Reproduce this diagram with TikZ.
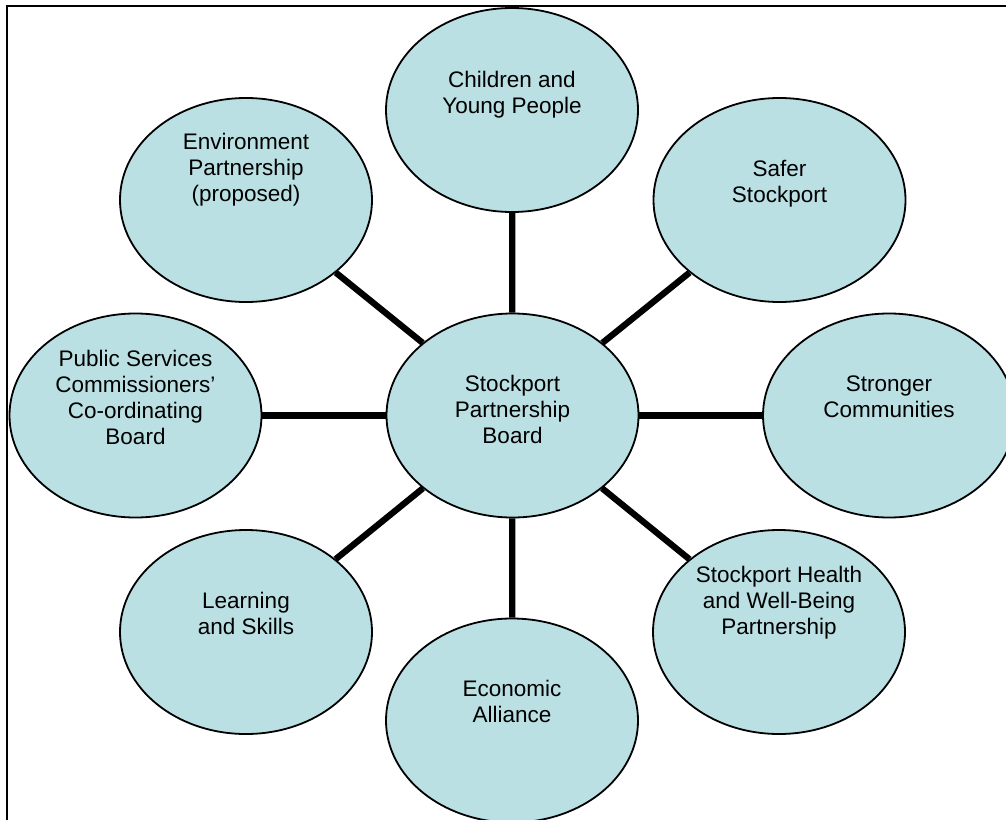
\documentclass[tikz,border=0pt]{standalone}
\usepackage{fontspec}
\setmainfont{Liberation Sans}
\usetikzlibrary{shapes.geometric}
\definecolor{bubble}{RGB}{186,224,227}
\newcommand\stk[1]{\begin{tabular}[t]{@{}c@{}}#1\end{tabular}}
\begin{document}
\begin{tikzpicture}[x=1pt,y=-1pt,
  bubble/.style={ellipse, draw=black, line width=1.8pt, fill=bubble,
    minimum width=252pt, minimum height=204pt, inner sep=0pt},
  lbl/.style={anchor=base, inner sep=0pt, font=\fontsize{22.5}{26}\selectfont},
  link/.style={line width=6.3pt, black}]
\useasboundingbox (0,0) rectangle (1006,819);
\clip (0,0) rectangle (1006,819);
% outer frame
\draw[line width=1.6pt] (7,830) -- (7,6) -- (1015,6) -- (1015,830);

% bubbles
\node[bubble] (hub)   at (512.5,415.5) {};
\node[bubble] (cyp)   at (512,110)   {};
\node[bubble] (safer) at (779.5,200) {};
\node[bubble] (strong) at (889,415.5) {};
\node[bubble] (health) at (779,632)  {};
\node[bubble] (econ)  at (512,720.5) {};
\node[bubble] (learn) at (246,632)   {};
\node[bubble] (pubs)  at (135.5,415.5) {};
\node[bubble] (env)   at (246,200)   {};

% spokes
\foreach \n in {cyp,safer,strong,health,econ,learn,pubs,env}
  \draw[link] (hub) -- (\n);

% labels
\node[lbl] (thub)    at (512.5,391.5) {\stk{Stockport\\Partnership\\Board}};
\node[lbl] (tcyp)    at (512,87)      {\stk{Children and\\Young People}};
\node[lbl] (tsafer)  at (779.5,176)   {\stk{Safer\\Stockport}};
\node[lbl] (tstrong) at (889,391.5)   {\stk{Stronger\\Communities}};
\node[lbl] (thealth) at (779,582)     {\stk{Stockport Health\\and Well-Being\\Partnership}};
\node[lbl] (tecon)   at (512,696.5)   {\stk{Economic\\Alliance}};
\node[lbl] (tlearn)  at (246,608)     {\stk{Learning\\and Skills}};
\node[lbl] (tpubs)   at (135.5,366)   {\stk{Public Services\\Commissioners’\\Co-ordinating\\Board}};
\node[lbl] (tenv)    at (246,149.5)   {\stk{Environment\\Partnership\\(proposed)}};
\end{tikzpicture}
\end{document}
